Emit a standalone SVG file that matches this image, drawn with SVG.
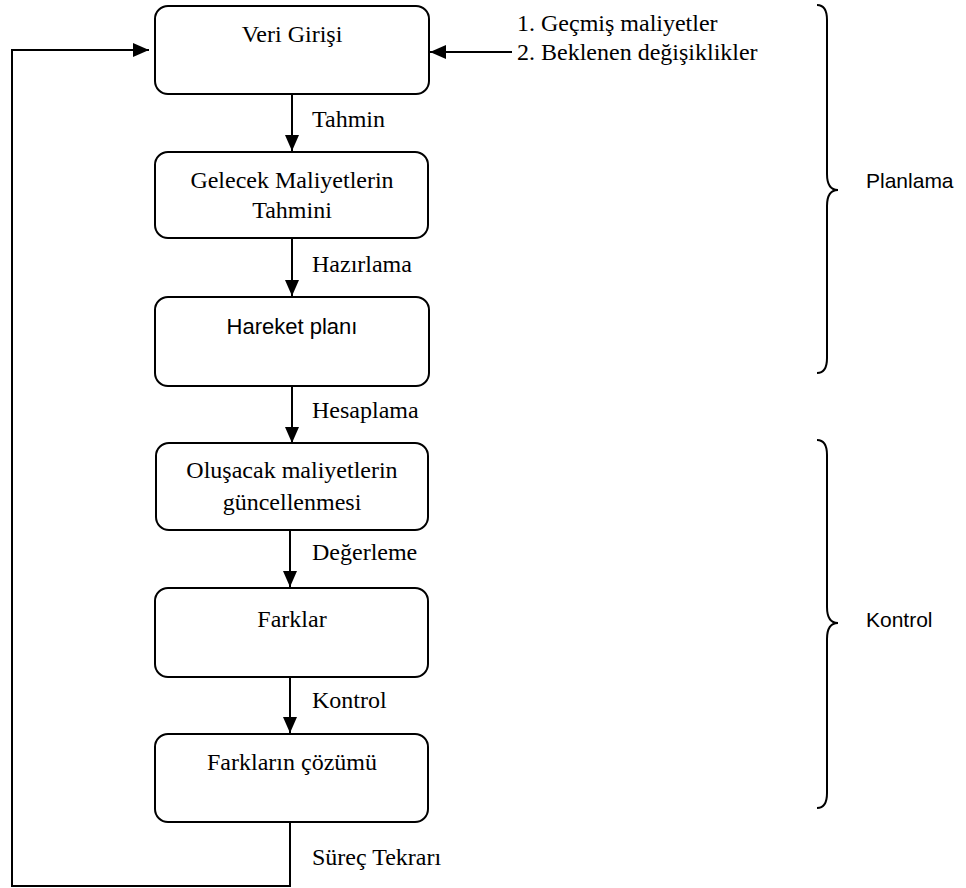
<svg xmlns="http://www.w3.org/2000/svg" width="966" height="888" viewBox="0 0 966 888">
<defs>
<style>
.box{fill:#fff;stroke:#000;stroke-width:2}
.t{font-family:"Liberation Serif","Times New Roman",serif;font-size:24px;fill:#000}
.s{font-family:"Liberation Sans",Arial,sans-serif;font-size:21px;fill:#000}
.c{text-anchor:middle}
.ln{fill:none;stroke:#000;stroke-width:2}
.br{fill:none;stroke:#000;stroke-width:2}
</style>
<marker id="ah" viewBox="0 0 16 14" refX="16" refY="7" markerWidth="16" markerHeight="14" markerUnits="userSpaceOnUse" orient="auto">
<path d="M0,0 L16,7 L0,14 Z" fill="#000"/>
</marker>
</defs>
<rect width="966" height="888" fill="#fff"/>
<g id="connectors">
<line class="ln" x1="292" y1="94" x2="292" y2="151" marker-end="url(#ah)"/>
<line class="ln" x1="292" y1="238" x2="292" y2="296" marker-end="url(#ah)"/>
<line class="ln" x1="292" y1="386" x2="292" y2="443" marker-end="url(#ah)"/>
<line class="ln" x1="290" y1="530" x2="290" y2="587" marker-end="url(#ah)"/>
<line class="ln" x1="290" y1="677" x2="290" y2="733" marker-end="url(#ah)"/>
<line class="ln" x1="512" y1="52" x2="430" y2="52" marker-end="url(#ah)"/>
<polyline class="ln" points="290,822 290,886 12,886 12,50 149,50" marker-end="url(#ah)"/>
<text class="t" x="312" y="127">Tahmin</text>
<text class="t" x="312" y="272">Hazırlama</text>
<text class="t" x="312" y="418">Hesaplama</text>
<text class="t" x="312" y="560">Değerleme</text>
<text class="t" x="312" y="708">Kontrol</text>
<text class="t" x="312" y="865">Süreç Tekrarı</text>
</g>
<g id="veri-girisi">
<rect class="box" x="155" y="6" width="274" height="88" rx="13"/>
<text class="t c" x="292" y="42">Veri Girişi</text>
</g>
<g id="girdiler">
<text class="t" x="517" y="31">1. Geçmiş maliyetler</text>
<text class="t" x="517" y="60">2. Beklenen değişiklikler</text>
</g>
<g id="gelecek-maliyetler">
<rect class="box" x="155" y="152" width="273" height="86" rx="13"/>
<text class="t c" x="292" y="188">Gelecek Maliyetlerin</text>
<text class="t c" x="292" y="218">Tahmini</text>
</g>
<g id="hareket-plani">
<rect class="box" x="155" y="297" width="274" height="89" rx="13"/>
<text class="s c" x="292" y="334" style="font-size:22px">Hareket planı</text>
</g>
<g id="olusacak-maliyetler">
<rect class="box" x="156" y="443" width="272" height="87" rx="13"/>
<text class="t c" x="292" y="478">Oluşacak maliyetlerin</text>
<text class="t c" x="292" y="510">güncellenmesi</text>
</g>
<g id="farklar">
<rect class="box" x="155" y="588" width="273" height="89" rx="13"/>
<text class="t c" x="292" y="627">Farklar</text>
</g>
<g id="farklarin-cozumu">
<rect class="box" x="155" y="734" width="273" height="88" rx="13"/>
<text class="t c" x="292" y="770">Farkların çözümü</text>
</g>
<g id="planlama">
<path class="br" d="M817,5 Q827,5 827,20 L827,174 Q827,190 838,190 Q827,190 827,206 L827,358 Q827,373 817,373"/>
<text class="s" x="866" y="188">Planlama</text>
</g>
<g id="kontrol">
<path class="br" d="M817,440 Q827,440 827,455 L827,607 Q827,623 838,623 Q827,623 827,639 L827,793 Q827,808 817,808"/>
<text class="s" x="866" y="627">Kontrol</text>
</g>
</svg>
